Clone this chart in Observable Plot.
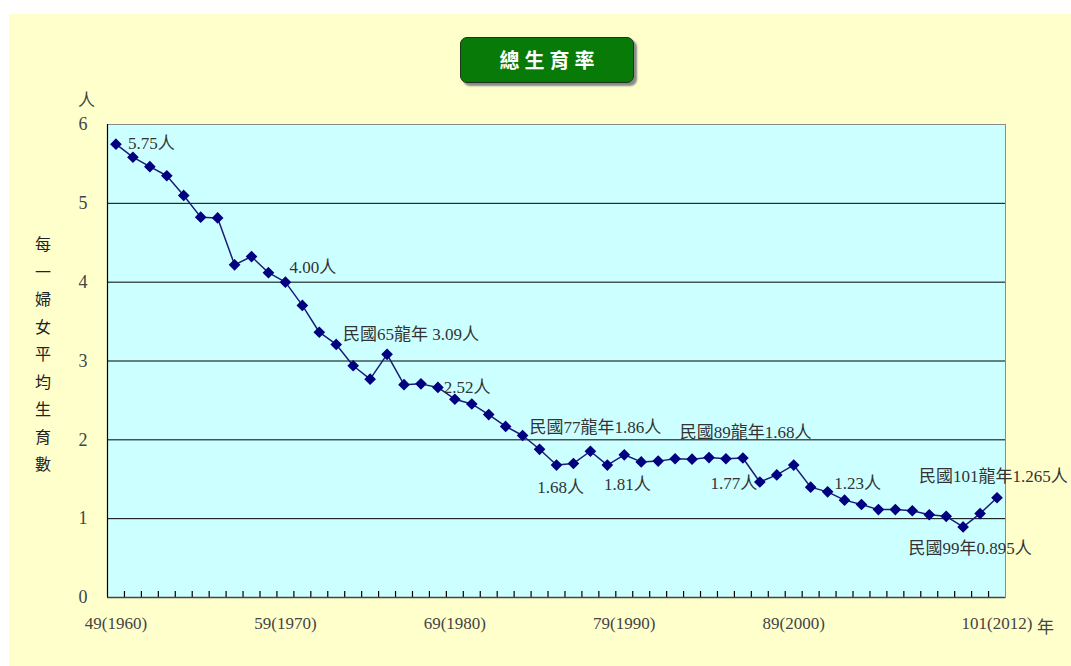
<!DOCTYPE html>
<html><head><meta charset="utf-8">
<script src="https://cdn.jsdelivr.net/npm/d3@7"></script>
<script src="https://cdn.jsdelivr.net/npm/@observablehq/plot@0.6"></script>
<style>
body{margin:0;background:#fff;}
#wrap{position:relative;width:1071px;height:666px;overflow:hidden;}
#bg{position:absolute;left:9px;top:14px;right:0;bottom:0;background:#FFFFCC;}
#chart{position:absolute;left:0;top:0;}
#title{position:absolute;left:460px;top:37px;width:172px;height:44px;background:#087a08;border:1.5px solid #1c331c;border-radius:7px;box-shadow:3px 3px 2px #8a8a8a;color:#fff;font-family:"Noto Sans CJK TC";font-weight:bold;font-size:20px;letter-spacing:5px;text-indent:5px;text-align:center;line-height:44px;}
.unit{position:absolute;font-family:"Noto Sans CJK TC";font-size:17px;color:#444;line-height:17px;}
#ytitle{position:absolute;left:35px;top:236px;writing-mode:vertical-rl;font-family:"Noto Sans CJK TC";font-size:16px;letter-spacing:11.5px;color:#222;line-height:16px;}
</style></head>
<body>
<div id="wrap">
<div id="bg"></div>
<div id="chart"></div>
<div id="title">總生育率</div>
<div class="unit" style="left:78px;top:90px;">人</div>
<div class="unit" style="left:1037px;top:617px;">年</div>
<div id="ytitle">每一婦女平均生育數</div>
</div>
<script>
const years = [1960,1961,1962,1963,1964,1965,1966,1967,1968,1969,
  1970,1971,1972,1973,1974,1975,1976,1977,1978,1979,
  1980,1981,1982,1983,1984,1985,1986,1987,1988,1989,
  1990,1991,1992,1993,1994,1995,1996,1997,1998,1999,
  2000,2001,2002,2003,2004,2005,2006,2007,2008,2009,
  2010,2011,2012];
const tfr = [5.75,5.585,5.465,5.35,5.10,4.825,4.815,4.22,4.325,4.12,
  4.00,3.705,3.365,3.21,2.94,2.77,3.085,2.70,2.71,2.665,
  2.515,2.455,2.32,2.17,2.055,1.88,1.68,1.70,1.855,1.68,
  1.81,1.72,1.73,1.76,1.755,1.775,1.76,1.77,1.465,1.555,
  1.68,1.40,1.34,1.235,1.18,1.115,1.115,1.10,1.05,1.03,
  0.895,1.065,1.265];
const xTicks = [1960,1970,1980,1990,2000,2012];
const xTickLabels = ["49(1960)","59(1970)","69(1980)","79(1990)","89(2000)","101(2012)"];
const yTicks = [0,1,2,3,4,5,6];
const gridValues = [1,2,3,4,5];
const annYears = [1960,1970,1976,1980,1986,1988,1990,1997,2000,2003,2010,2012];
const annTexts = ["5.75人","4.00人","民國65龍年 3.09人","2.52人","1.68人","民國77龍年1.86人","1.81人","1.77人","民國89龍年1.68人","1.23人","民國99年0.895人","民國101龍年1.265人"];
// label placement styles (pixel offsets from the point)
const annStyle = [
  {dx:12,dy:-1,anchor:"start"},
  {dx:4,dy:-15,anchor:"start"},
  {dx:-44,dy:-20,anchor:"start"},
  {dx:-11,dy:-12,anchor:"start"},
  {dx:4,dy:22,anchor:"middle"},
  {dx:5,dy:-24,anchor:"middle"},
  {dx:3,dy:30,anchor:"middle"},
  {dx:-9,dy:26,anchor:"middle"},
  {dx:-48,dy:-33,anchor:"middle"},
  {dx:13,dy:-17,anchor:"middle"},
  {dx:7,dy:22,anchor:"middle"},
  {dx:-78,dy:-21,anchor:"start"}
];

const rows = years.map((y,i)=>({year:y, tfr:tfr[i]}));
const xDomain = [years[0]-0.5, years[years.length-1]+0.5];
const bounds = years.slice(1).map(y=>y-0.5);
const anns = annYears.map((y,i)=>({year:y, value:tfr[years.indexOf(y)], label:annTexts[i], s:annStyle[i]}));

const chart = Plot.plot({
  width:1071, height:666,
  marginLeft:107, marginRight:66, marginTop:124, marginBottom:69,
  style:{background:"transparent", fontFamily:"'Liberation Serif','Noto Sans CJK TC',serif", overflow:"visible"},
  x:{domain:xDomain},
  y:{domain:[0,6]},
  marks:[
    Plot.frame({fill:"#CCFFFF", stroke:"#8a8a8a"}),
    Plot.ruleY(gridValues, {stroke:"#000", strokeWidth:1}),
    Plot.tickX(bounds, {x:d=>d, insetTop:467, stroke:"#000", strokeWidth:1.2}),
    Plot.ruleY([0], {stroke:"#444", strokeWidth:1.5}),
    Plot.ruleX([xDomain[0]], {stroke:"#000", strokeWidth:1.2}),
    Plot.axisX({ticks:xTicks, tickFormat:d=>xTickLabels[xTicks.indexOf(d)], tickSize:0, tickPadding:19, fontSize:17, fill:"#444", label:null}),
    Plot.axisY({ticks:yTicks, tickFormat:d=>String(d), tickSize:0, tickPadding:20, fontSize:18, fill:"#444", label:null}),
    Plot.line(rows, {x:"year", y:"tfr", stroke:"#1c1c7a", strokeWidth:1.5}),
    Plot.dot(rows, {x:"year", y:"tfr", symbol:"diamond2", r:4.3, fill:"#000080", stroke:"#000080"}),
    ...anns.map(a => Plot.text([a], {x:"year", y:"value", text:"label", dx:a.s.dx, dy:a.s.dy, textAnchor:a.s.anchor, fontSize:17, fill:"#333"}))
  ]
});
document.getElementById("chart").appendChild(chart);
</script>
</body></html>
